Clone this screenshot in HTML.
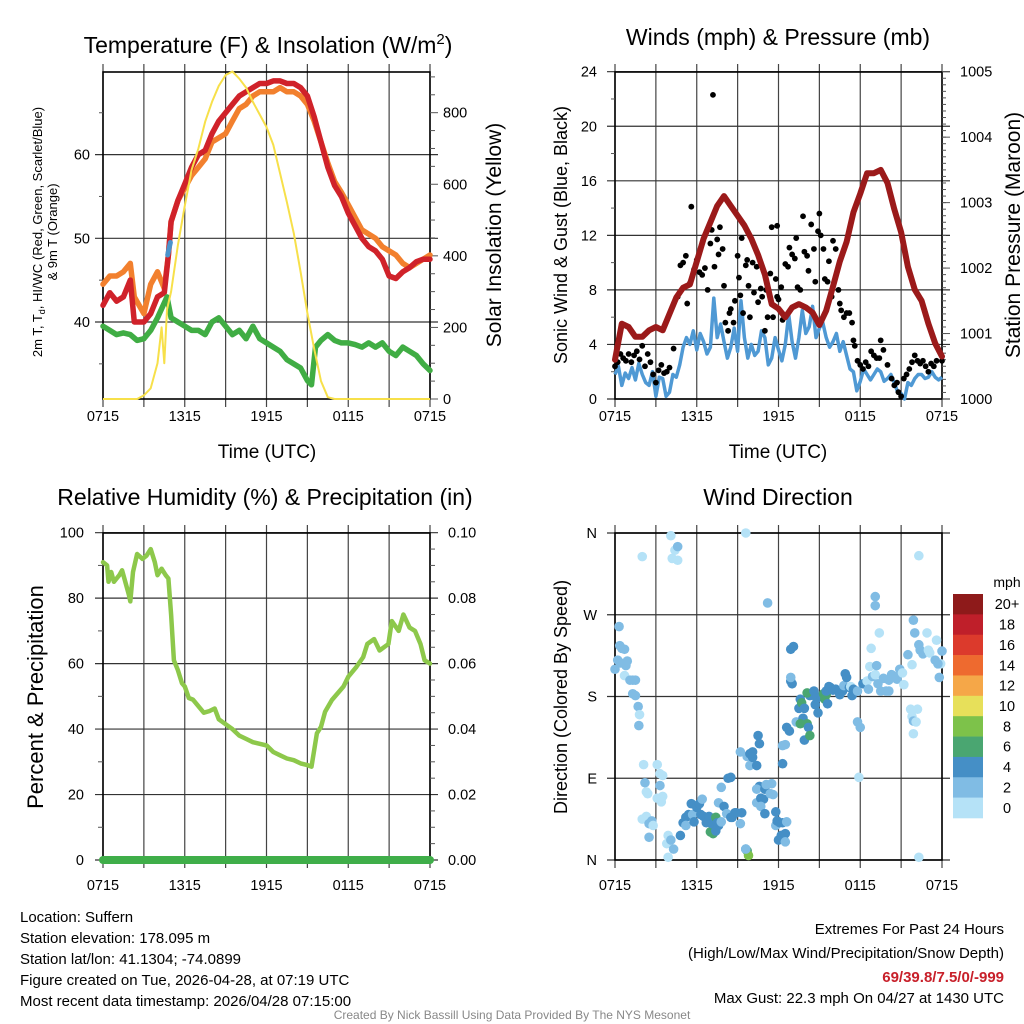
<!DOCTYPE html>
<html><head><meta charset="utf-8"><style>
html,body{margin:0;padding:0;background:#fff;}
svg{display:block;font-family:"Liberation Sans",Arial,sans-serif;}
</style></head><body>
<svg id="root" width="1024" height="1024" viewBox="0 0 1024 1024" xmlns="http://www.w3.org/2000/svg">
<rect x="0" y="0" width="1024" height="1024" fill="#fff"/>
<g id="p1"></g>
<g id="p2"></g>
<g id="p3"></g>
<g id="p4"></g>

<text x="268" y="53" font-size="23" text-anchor="middle">Temperature (F) &amp; Insolation (W/m<tspan dy="-9" font-size="15">2</tspan><tspan dy="9">)</tspan></text>
<text x="778" y="45" font-size="23" text-anchor="middle">Winds (mph) &amp; Pressure (mb)</text>
<text x="265" y="505" font-size="23" text-anchor="middle">Relative Humidity (%) &amp; Precipitation (in)</text>
<text x="778" y="505" font-size="23" text-anchor="middle">Wind Direction</text>

<text x="267" y="458" font-size="19" text-anchor="middle">Time (UTC)</text>
<text x="778" y="458" font-size="19" text-anchor="middle">Time (UTC)</text>
<text transform="translate(42,232) rotate(-90)" font-size="13" text-anchor="middle">2m T, T<tspan dy="3" font-size="9">d</tspan><tspan dy="-3">, HI/WC (Red, Green, Scarlet/Blue)</tspan></text>
<text transform="translate(57,232) rotate(-90)" font-size="13" text-anchor="middle">&amp; 9m T (Orange)</text>
<text transform="translate(501,235) rotate(-90)" font-size="21" text-anchor="middle">Solar Insolation (Yellow)</text>
<text transform="translate(567,235) rotate(-90)" font-size="18" text-anchor="middle">Sonic Wind &amp; Gust (Blue, Black)</text>
<text transform="translate(1020,235) rotate(-90)" font-size="21" text-anchor="middle">Station Pressure (Maroon)</text>
<text transform="translate(43,697) rotate(-90)" font-size="22" text-anchor="middle">Percent &amp; Precipitation</text>
<text transform="translate(567,697) rotate(-90)" font-size="18" text-anchor="middle">Direction (Colored By Speed)</text>

<g font-size="15">
<text x="20" y="922">Location: Suffern</text>
<text x="20" y="943">Station elevation: 178.095 m</text>
<text x="20" y="964">Station lat/lon: 41.1304; -74.0899</text>
<text x="20" y="985">Figure created on Tue, 2026-04-28, at 07:19 UTC</text>
<text x="20" y="1006">Most recent data timestamp: 2026/04/28 07:15:00</text>
</g>
<g font-size="15" text-anchor="end">
<text x="1004" y="934">Extremes For Past 24 Hours</text>
<text x="1004" y="958">(High/Low/Max Wind/Precipitation/Snow Depth)</text>
<text x="1004" y="982" fill="#c8202a" font-weight="bold">69/39.8/7.5/0/-999</text>
<text x="1004" y="1003">Max Gust: 22.3 mph On 04/27 at 1430 UTC</text>
</g>
<text x="512" y="1019" font-size="12" fill="#888" text-anchor="middle">Created By Nick Bassill Using Data Provided By The NYS Mesonet</text>
</svg>
<script>
// ---------- data ----------
const xTickLabels = ["0715","1315","1915","0115","0715"];
const tempH = [0,0.5,1,1.5,2,2.3,3,3.5,4,4.5,4.8,5,5.5,6,6.5,7,7.5,8,8.5,9,9.5,10,10.5,11,11.5,12,12.5,13,13.5,14,14.5,15,15.5,16,16.5,17,17.5,18,18.5,19,19.5,20,20.5,21,21.5,22,22.5,23,23.5,24];
const tempRed = [42,43.5,42.5,43,45,40,40,41,43,43.5,48,52,54.5,56.5,58.5,60,60.5,62.5,64,65,66,67,67.5,68,68.5,68.5,68.8,68.8,68.5,68.5,68,67,64.5,61.5,58.5,56.3,55,53,51.5,50,49,48.5,47.5,45.5,45.2,46,46.5,47.2,47.5,47.5];
const temp9m = [44.5,45.5,45.5,46,47,43,41,44.5,46,44,48,52,54.5,56,57.5,58.5,59.5,61.5,62,62.5,64,65.5,66,67,67.5,67.5,67.5,68,67.5,67.5,67,66,64,61.5,59,56.8,55.5,54,52.5,51,50.5,50,49,48.5,48,47,46.5,47,47.5,48];
const dewH = [0,0.5,1,1.5,2,2.5,3,3.5,4,4.7,5,5.5,6,6.5,7,7.5,8,8.5,9,9.5,10,10.5,11,11.5,12,12.5,13,13.5,14,14.5,15,15.3,15.6,16,16.5,17,17.5,18,18.5,19,19.5,20,20.5,21,21.5,22,22.5,23,23.5,24];
const dewVals = [39.5,39,38.5,38.7,38.5,37.8,38,39,40.5,43,40.5,40,39.5,39,39,38.5,40,40.5,39.5,38.5,39,38,39.5,38,37.5,37,36.5,35.5,35,34.5,33,32.5,37,37.8,38.5,37.8,37.5,37.5,37.3,37,37.5,37,37.5,36.5,36,37,36.5,36,35,34.2];
const hiwcH = [4.75,4.85,4.95];
const hiwcVals = [48,48.8,49.5];
const solarH = [0,2.5,3,3.5,4,4.3,4.5,4.7,5,5.5,6,6.5,7,7.5,8,8.5,9,9.5,10,10.5,11,11.5,12,12.5,13,13.5,14,14.5,15,15.5,16,16.5,17,24];
const solarVals = [0,0,10,30,100,200,100,250,300,430,540,640,700,775,830,875,905,915,895,870,830,795,760,710,630,550,463,355,240,140,50,5,0,0];

const presH = [0,0.5,1,1.5,2,2.5,3,3.5,4,4.5,5,5.5,6,6.5,7,7.5,8,8.5,9,9.5,10,10.5,11,11.5,12,12.5,13,13.5,14,14.5,15,15.5,16,16.5,17,17.5,18,18.5,19,19.5,20,20.5,21,21.5,22,22.5,23,23.5,24];
const presVals = [1000.6,1001.15,1001.1,1000.95,1000.95,1001.05,1001.1,1001.05,1001.3,1001.55,1001.7,1001.75,1002.1,1002.45,1002.7,1002.95,1003.1,1002.95,1002.8,1002.65,1002.45,1002.2,1001.9,1001.45,1001.38,1001.25,1001.4,1001.45,1001.4,1001.32,1001.13,1001.35,1001.72,1002.1,1002.4,1002.85,1003.14,1003.45,1003.45,1003.5,1003.3,1002.9,1002.55,1002.02,1001.67,1001.5,1001.15,1000.85,1000.65];
const windH = [0,0.25,0.5,0.75,1,1.25,1.5,1.75,2,2.25,2.5,2.75,3,3.25,3.5,3.75,4,4.25,4.5,4.75,5,5.25,5.5,5.75,6,6.25,6.5,6.75,7,7.25,7.5,7.75,8,8.25,8.5,8.75,9,9.25,9.5,9.75,10,10.25,10.5,10.75,11,11.25,11.5,11.75,12,12.25,12.5,12.75,13,13.25,13.5,13.75,14,14.25,14.5,14.75,15,15.25,15.5,15.75,16,16.25,16.5,16.75,17,17.25,17.5,17.75,18,18.25,18.5,18.75,19,19.25,19.5,19.75,20,20.25,20.5,20.75,21,21.25,21.5,21.75,22,22.25,22.5,22.75,23,23.25,23.5,23.75,24];
const windVals = [1.8,2.4,1.0,1.9,1.5,2.3,1.4,2.6,1.8,1.2,1.0,2.0,0.2,1.6,1.5,0.2,0.5,1.8,1.6,2.5,3.8,4.5,4.0,5.0,3.6,4.8,4.2,3.3,3.8,7.4,4.5,5.5,4.2,3.0,3.8,5.2,3.5,7.2,4.5,3.0,4.0,3.2,3.5,5.0,4.5,2.5,3.0,4.5,3.6,2.8,4.0,6.2,4.2,3.0,4.5,6.5,4.8,5.3,6.8,4.5,5.2,5.6,4.5,3.8,4.2,4.8,3.5,4.2,3.2,2.2,2.0,0.6,1.3,2.2,1.8,1.4,1.8,2.2,2.0,1.3,1.5,1.8,1.2,0.5,0.4,0.0,1.2,1.0,1.5,1.8,1.8,1.5,1.6,2.0,1.6,1.4,1.6,1.9,1.2];
const gustH = [0,0.2,0.4,0.6,0.8,1.0,1.2,1.4,1.6,1.8,2.0,2.2,2.4,2.6,2.8,3.0,3.2,3.4,3.6,3.8,4.0,4.3,4.6,4.8,5.0,5.2,5.3,5.5,5.6,5.8,6.0,6.2,6.4,6.6,6.8,7.0,7.1,7.19,7.3,7.5,7.6,7.7,7.9,8.0,8.1,8.3,8.4,8.5,8.7,8.8,9.0,9.1,9.2,9.3,9.4,9.6,9.7,9.8,9.9,10.1,10.2,10.4,10.5,10.7,10.8,11.0,11.1,11.2,11.4,11.5,11.6,11.8,11.9,11.9,12.0,12.2,12.3,12.5,12.7,12.8,13.0,13.2,13.3,13.4,13.6,13.8,13.9,14.1,14.2,14.4,14.6,14.7,14.9,15.0,15.1,15.3,15.4,15.6,15.7,15.9,16.0,16.2,16.4,16.5,16.6,16.8,17.0,17.2,17.4,17.5,17.6,17.8,18.0,18.2,18.4,18.6,18.8,19.0,19.2,19.4,19.5,19.7,20.0,20.3,20.5,20.7,20.8,21.0,21.2,21.4,21.6,21.8,22.0,22.2,22.4,22.6,22.8,23.0,23.2,23.4,23.6,24.0];
const gustVals = [2.4,2.7,3.3,3.0,2.8,3.3,2.7,3.2,3.5,2.9,3.9,2.4,3.3,2.7,1.8,1.2,2.1,2.5,1.9,2.0,2.3,3.7,7.5,9.8,10.0,10.5,7.0,8.5,14.1,9.5,10.2,9.3,9.1,9.6,8.0,11.4,12.4,22.3,9.7,11.7,10.6,12.6,11.0,8.3,5.6,5.0,6.3,6.6,5.6,7.2,10.5,8.9,7.6,11.8,6.3,9.8,10.2,8.3,6.0,10.0,7.8,9.7,7.1,8.1,7.5,5.0,8.0,6.0,9.2,12.6,6.0,8.8,7.5,12.7,7.3,8.2,5.8,9.9,9.7,11.1,10.6,10.3,11.8,8.2,8.0,13.4,10.8,10.5,9.4,12.8,11.0,8.6,12.3,13.6,12.0,11.0,8.8,8.6,10.1,7.5,11.6,11.0,8.0,7.0,6.5,6.0,6.3,6.3,5.6,4.3,3.9,2.8,2.5,2.2,2.7,2.4,3.5,3.2,3.0,3.0,4.3,3.6,2.5,1.5,1.0,1.2,0.5,0.2,1.5,1.8,2.2,2.7,3.2,2.8,2.6,2.8,2.4,2.0,2.6,2.4,2.8,2.8];

const rhH = [0,0.3,0.4,0.6,0.8,1.0,1.2,1.4,1.7,1.9,2.0,2.2,2.5,2.9,3.2,3.5,3.8,4.0,4.3,4.6,4.8,5.0,5.2,5.5,5.8,6.0,6.3,6.6,7.0,7.4,7.8,8.2,8.5,9.0,9.5,10.0,10.5,11.0,11.5,12.0,12.5,13.0,13.5,14.0,14.5,15.0,15.3,15.7,16.0,16.3,16.8,17.65,18.0,18.6,19.1,19.4,19.9,20.3,20.95,21.2,21.7,22.05,22.5,22.9,23.3,23.6,24];
const rhVals = [91,90,85,88,85,86,87,88.5,84,81,79,88,93.5,92,93,95,91,87,89,87,86,75,61,58,54,53,49.5,49,47,45,45.5,46.3,43,41.5,40,38,37,36,35.5,35,33,32,31,30.5,29.5,29,28.5,38.7,40.7,45.3,48.9,53,56,59,62,66,67.5,64,66,73,70,75,71,70,66,61,60];
const precipH = [0,24];
const precipVals = [0,0];

const dirH = [0.0,0.2,0.3,0.35,0.5,0.4,0.7,0.9,0.8,0.7,1.1,1.3,1.5,1.3,1.5,1.7,1.8,1.75,2.1,2.2,2.3,2.4,2.0,2.3,2.5,2.7,2.8,2.5,3.1,3.3,3.5,3.3,3.1,3.5,3.4,3.9,3.8,4.1,4.3,3.9,4.1,4.4,4.6,4.2,4.6,2.0,4.8,5.0,5.2,5.2,5.4,5.6,5.7,5.8,6.0,6.2,6.3,6.4,6.5,6.7,6.9,7.0,7.1,7.2,7.4,7.5,7.4,7.6,7.8,7.8,7.6,8.0,8.2,8.3,8.5,8.6,8.8,8.9,8.5,9.2,9.3,9.6,9.7,9.8,9.6,9.2,9.7,9.9,10.1,9.9,10.4,10.5,10.6,10.1,9.6,10.6,10.4,10.4,10.7,10.9,11.0,10.7,11.1,11.4,11.5,11.0,11.6,11.8,11.8,11.9,12.1,12.0,12.3,12.2,12.4,12.5,12.5,12.6,11.2,12.3,12.3,12.6,12.8,12.5,12.9,13.1,12.9,13.0,12.9,13.3,13.5,13.6,13.7,13.8,13.9,13.6,13.9,14.1,14.2,14.3,14.3,14.1,14.6,14.7,14.9,14.8,15.1,15.3,15.4,15.5,15.5,15.7,15.6,15.8,16.0,16.2,16.4,16.5,16.7,16.8,16.9,17.0,17.2,17.4,17.3,17.5,17.8,18.2,17.8,18.0,17.9,18.5,18.6,18.7,18.9,19.1,18.8,19.2,19.3,19.5,19.7,19.9,20.1,20.3,20.5,20.7,20.9,21.1,21.2,20.1,19.1,19.1,19.4,21.5,21.8,21.9,22.0,22.3,22.4,22.6,22.9,23.0,23.1,23.5,23.8,23.9,24.0,23.7,21.7,21.8,21.9,21.9,22.2,22.1,22.3,22.3,23.6];
const dirVals = [210,220,257,236,233,217,232,219,214,203,198,198,198,183,181,169,160,148,105,85,75,73,45,48,40,43,38,25,105,95,93,82,68,70,64,27,18,22,12,3,357,341,345,332,330,334,27,41,47,38,50,62,50,42,58,62,50,67,48,41,48,31,40,29,47,41,32,38,42,80,63,59,51,90,91,47,52,52,47,40,52,12,10,5,12,119,114,117,119,104,104,137,128,113,360,81,78,63,68,67,78,59,83,73,84,51,72,53,38,43,41,22,41,27,22,29,20,42,283,106,126,146,142,127,232,235,197,194,201,152,167,177,173,156,167,150,132,150,146,137,181,184,186,171,162,178,180,183,177,182,186,191,172,190,187,188,186,182,186,192,205,201,190,181,191,188,186,194,152,146,91,197,188,213,202,204,233,214,194,186,200,186,198,204,202,199,210,206,193,186,290,280,250,226,215,264,250,237,231,227,250,231,228,220,201,216,230,216,166,158,153,139,166,152,3,335,242];
const dirSpeed = [3,3,3,3,3,3,3,3,3,1,3,3,3,3,3,3,1,3,1,3,1,1,1,1,3,3,1,3,1,1,1,3,1,1,1,1,1,3,3,1,1,1,3,1,1,1,5,5,5,3,5,5,3,5,5,5,5,3,5,5,5,7,5,7,7,5,5,5,3,3,3,5,3,5,5,5,5,5,5,3,5,5,7,9,3,3,3,5,5,3,5,5,5,5,1,5,3,3,5,5,5,3,3,3,3,5,3,5,3,5,5,5,5,5,5,5,3,3,3,5,3,5,5,3,5,5,5,5,3,3,5,5,7,5,5,7,5,7,5,7,5,7,5,5,5,5,5,7,7,7,5,5,5,5,5,5,5,5,5,3,5,5,5,5,1,5,3,5,3,3,1,1,3,1,3,1,1,3,3,3,3,3,3,3,3,3,3,1,1,3,3,3,1,3,1,3,3,3,3,3,1,1,1,3,3,1,3,3,1,1,3,1,1,1,1,1,1];
const cbLabels = ["20+","18","16","14","12","10","8","6","4","2","0"];
const cbColors = ["#8e1a1a","#bf1f2a","#dc3a2c","#ee6a2f","#f5a748","#e7e05a","#7dc24a","#4aa671","#458fc6","#80bce4","#b5e2f7"];
const speedColors = ["#b5e2f7","#80bce4","#458fc6","#4aa671","#7dc24a","#e7e05a","#f5a748","#ee6a2f","#dc3a2c","#bf1f2a","#8e1a1a"];

// ---------- scales ----------
const NS = "http://www.w3.org/2000/svg";
const X1 = h => 103 + h * 327 / 24;
const X2 = h => 615 + h * 327 / 24;
const Ty = v => 322 - (v - 40) * 8.37;
const Sy = w => 399 - w * 0.3579;
const Wy = v => 399 - v * 327.3 / 24;
const Py = p => 399 - (p - 1000) * 65.46;
const Ry = v => 860 - v * 3.273;
const PRy = v => 860 - v * 3273;
const Dy = d => 860 - d * 327 / 360;

function mk(parent, tag, attrs) {
  const el = document.createElementNS(NS, tag);
  for (const k in attrs) el.setAttribute(k, attrs[k]);
  parent.appendChild(el);
  return el;
}
function pathD(hs, vs, X, Y) {
  return hs.map((h, i) => (i ? "L" : "M") + X(h).toFixed(1) + "," + Y(vs[i]).toFixed(1)).join("");
}

function frame(g, x0, x1, y0, y1, X, hLines, prefix, labY) {
  for (let h = 0; h <= 24; h += 3) {
    const l = mk(g, "line", {x1: X(h), x2: X(h), y1: y0 - 8, y2: y1 + 8, stroke: "#444", "stroke-width": 1.2});
    
    
  }
  hLines.forEach(y => {
    const l = mk(g, "line", {x1: x0 - 8, x2: x1 + 8, y1: y, y2: y, stroke: "#333", "stroke-width": 1.2});
    
    
  });
  const r = mk(g, "rect", {x: x0, y: y0, width: x1 - x0, height: y1 - y0, fill: "none", stroke: "#000", "stroke-width": 1.6});
  
  
  xTickLabels.forEach((t, i) => {
    const tx = mk(g, "text", {x: X(i * 6), y: labY, "font-size": 14.5, "text-anchor": "middle"});
    tx.textContent = t;
    
    
  });
}
function ytick(g, x, y, txt, anchor, prefix) {
  const tx = mk(g, "text", {x: x, y: y + 5, "font-size": 14.5, "text-anchor": anchor});
  tx.textContent = txt;
  
  
}
function minor(g, x1, x2, y, prefix) {
  const l = mk(g, "line", {x1: x1, x2: x2, y1: y, y2: y, stroke: "#555", "stroke-width": 1});
  
  
}

// ---------- panel 1 ----------
const p1 = document.getElementById("p1");
frame(p1, 103, 430, 72, 399, X1, [Ty(40), Ty(50), Ty(60)], "p1", 421);
[40, 50, 60].forEach(v => ytick(p1, 90, Ty(v), String(v), "end", "p1-y-tick-label"));
[35, 45, 55, 65].forEach(v => minor(p1, 99, 103, Ty(v), "p1-y-minor-tick"));
[0, 200, 400, 600, 800].forEach(v => { ytick(p1, 443, Sy(v), String(v), "start", "p1-right-tick-label"); minor(p1, 430, 438, Sy(v), "p1-right-major-tick"); });
for (let v = 50; v <= 900; v += 50) if (v % 200) minor(p1, 430, 435, Sy(v), "p1-right-minor-tick");
let el;
el = mk(p1, "path", {d: pathD(tempH, temp9m, X1, Ty), fill: "none", stroke: "#f2802e", "stroke-width": 5.5, "stroke-linejoin": "round", "stroke-linecap": "round"});


el = mk(p1, "path", {d: pathD(tempH, tempRed, X1, Ty), fill: "none", stroke: "#d0222a", "stroke-width": 5.5, "stroke-linejoin": "round", "stroke-linecap": "round"});


el = mk(p1, "path", {d: pathD(hiwcH, hiwcVals, X1, Ty), fill: "none", stroke: "#4b93cc", "stroke-width": 5, "stroke-linecap": "round"});


el = mk(p1, "path", {d: pathD(dewH, dewVals, X1, Ty), fill: "none", stroke: "#40ad44", "stroke-width": 5.5, "stroke-linejoin": "round", "stroke-linecap": "round"});


el = mk(p1, "path", {d: pathD(solarH, solarVals, X1, Sy), fill: "none", stroke: "#f7e04a", "stroke-width": 2, "stroke-linejoin": "round"});



// ---------- panel 2 ----------
const p2 = document.getElementById("p2");
frame(p2, 615, 942, 72, 399, X2, [0, 4, 8, 12, 16, 20, 24].map(Wy), "p2", 421);
[0, 4, 8, 12, 16, 20, 24].forEach(v => ytick(p2, 597, Wy(v), String(v), "end", "p2-y-tick-label"));
[2, 6, 10, 14, 18, 22].forEach(v => minor(p2, 611, 615, Wy(v), "p2-y-minor-tick"));
[1000, 1001, 1002, 1003, 1004, 1005].forEach(v => { ytick(p2, 960, Py(v), String(v), "start", "p2-right-tick-label"); minor(p2, 942, 950, Py(v), "p2-right-major-tick"); });
for (let v = 1000.1; v < 1005; v += 0.1) minor(p2, 942, 946, Py(v), "p2-right-minor-tick");
el = mk(p2, "path", {d: pathD(windH, windVals, X2, Wy), fill: "none", stroke: "#4f99d4", "stroke-width": 3.5, "stroke-linejoin": "round"});


gustH.forEach((h, i) => {
  const c = mk(p2, "circle", {cx: X2(h), cy: Wy(gustVals[i]), r: 2.9, fill: "#000"});
  
  
});
el = mk(p2, "path", {d: pathD(presH, presVals, X2, Py), fill: "none", stroke: "#9b1a1a", "stroke-width": 6, "stroke-linejoin": "round", "stroke-linecap": "round"});



// ---------- panel 3 ----------
const p3 = document.getElementById("p3");
frame(p3, 103, 430, 533, 860, X1, [0, 20, 40, 60, 80, 100].map(Ry), "p3", 890);
[0, 20, 40, 60, 80, 100].forEach(v => { ytick(p3, 84, Ry(v), String(v), "end", "p3-y-tick-label"); ytick(p3, 448, Ry(v), (v / 1000).toFixed(2), "start", "p3-right-tick-label"); });
for (let v = 5; v < 100; v += 5) if (v % 20) { minor(p3, 430, 435, Ry(v), "p3-right-minor-tick"); if (v % 10 === 0) minor(p3, 98, 103, Ry(v), "p3-y-minor-tick"); }
el = mk(p3, "path", {d: pathD(rhH, rhVals, X1, Ry), fill: "none", stroke: "#8dc84b", "stroke-width": 4.5, "stroke-linejoin": "round", "stroke-linecap": "round"});


el = mk(p3, "path", {d: pathD(precipH, precipVals, X1, PRy), fill: "none", stroke: "#3fae49", "stroke-width": 8, "stroke-linecap": "round"});



// ---------- panel 4 ----------
const p4 = document.getElementById("p4");
const dirLabels = ["N", "E", "S", "W", "N"];
frame(p4, 615, 942, 533, 860, X2, [0, 90, 180, 270, 360].map(Dy), "p4", 890);
dirLabels.forEach((t, i) => ytick(p4, 597, Dy(i * 90), t, "end", "p4-y-tick-label"));
dirH.forEach((h, i) => {
  const bin = Math.min(10, Math.floor(dirSpeed[i] / 2));
  const c = mk(p4, "circle", {cx: X2(h), cy: Dy(dirVals[i]), r: 4.8, fill: speedColors[bin]});
  
  
});
const cbTop = 594, cbH = 224 / 11;
cbColors.forEach((col, i) => {
  const r = mk(p4, "rect", {x: 953, y: cbTop + i * cbH, width: 30, height: cbH + 0.3, fill: col});
  
  
  const t = mk(p4, "text", {x: 1007, y: cbTop + i * cbH + cbH / 2 + 5, "font-size": 14.5, "text-anchor": "middle"});
  t.textContent = cbLabels[i];
  
  
});
el = mk(p4, "text", {x: 1007, y: 587, "font-size": 14, "text-anchor": "middle"});
el.textContent = "mph";


</script>
</body></html>
